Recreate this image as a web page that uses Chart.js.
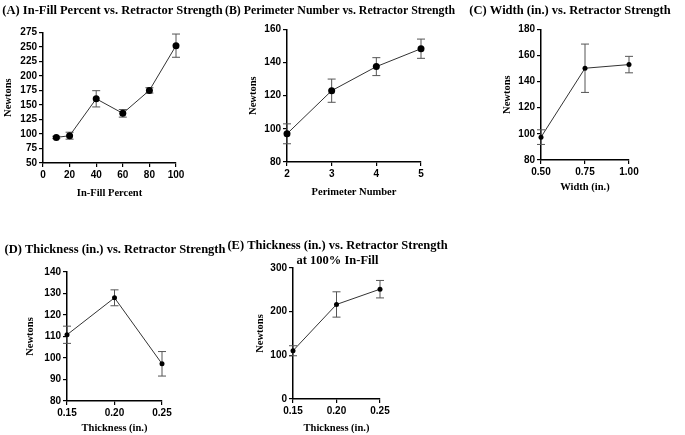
<!DOCTYPE html>
<html>
<head>
<meta charset="utf-8">
<script src="https://cdn.jsdelivr.net/npm/chart.js@4.4.0/dist/chart.umd.min.js"></script>
<style>
  body { margin: 0; background: #fff; width: 685px; height: 435px; position: relative; overflow: hidden; }
  canvas { position: absolute; }
</style>
</head>
<body>
<canvas id="chartA" width="225" height="210" style="left:0;top:0"></canvas>
<canvas id="chartB" width="230" height="210" style="left:225px;top:0"></canvas>
<canvas id="chartC" width="230" height="210" style="left:455px;top:0"></canvas>
<canvas id="chartD" width="230" height="205" style="left:0;top:230px"></canvas>
<canvas id="chartE" width="225" height="205" style="left:225px;top:230px"></canvas>
<script>
// (A) in-fill percent
const infillPct = [10, 20, 40, 60, 80, 100];
const infillNewtons = [94, 97, 160.5, 135.5, 175, 252];
const infillErr = [2, 6, 14, 6.5, 4.6, 20];
const infillXTicks = [0, 20, 40, 60, 80, 100];
const infillYTicks = [50, 75, 100, 125, 150, 175, 200, 225, 250, 275];

// (B) perimeter number
const perimNum = [2, 3, 4, 5];
const perimNewtons = [97, 123, 137.5, 148.3];
const perimErr = [6, 7, 5.4, 5.8];
const perimXTicks = [2, 3, 4, 5];
const perimYTicks = [80, 100, 120, 140, 160];

// (C) width
const widthIn = [0.5, 0.75, 1.0];
const widthNewtons = [97.5, 150.2, 153];
const widthErr = [5.6, 18.5, 6.3];
const widthXTicks = [0.5, 0.75, 1.0];
const widthYTicks = [80, 100, 120, 140, 160, 180];

// (D) thickness
const thickIn = [0.15, 0.20, 0.25];
const thickNewtons = [110.8, 128, 97.3];
const thickErr = [4, 3.7, 5.7];
const thickXTicks = [0.15, 0.20, 0.25];
const thickYTicks = [80, 90, 100, 110, 120, 130, 140];

// (E) thickness at 100% in-fill
const thick100Newtons = [110.5, 216.5, 251.5];
const thick100Err = [11.5, 29, 20];
const thick100YTicks = [0, 100, 200, 300];

const tickFont = { family: 'Liberation Sans', weight: 'bold', size: 10 };
const titleFont = { family: 'Liberation Serif', weight: 'bold', size: 12.5, lineHeight: 1.2 };
const axisFont = { family: 'Liberation Serif', weight: 'bold', size: 10.5, lineHeight: 1.2 };

// draws the vertical error bars with caps
const errorBars = {
  id: 'errorBars',
  beforeDatasetsDraw(chart, args, opts) {
    const ctx = chart.ctx;
    const ys = chart.scales.y;
    chart.data.datasets.forEach((ds, i) => {
      const meta = chart.getDatasetMeta(i);
      ctx.save();
      ctx.strokeStyle = '#555';
      ctx.lineWidth = 1;
      meta.data.forEach((pt, j) => {
        const v = ds.data[j].y;
        const e = ds.errors[j];
        const top = ys.getPixelForValue(v + e);
        const bot = ys.getPixelForValue(v - e);
        const w = opts.cap || 4;
        ctx.beginPath();
        ctx.moveTo(pt.x, top); ctx.lineTo(pt.x, bot);
        ctx.moveTo(pt.x - w, top); ctx.lineTo(pt.x + w, top);
        ctx.moveTo(pt.x - w, bot); ctx.lineTo(pt.x + w, bot);
        ctx.stroke();
      });
      ctx.restore();
    });
  }
};

function makePanel(id, p) {
  const pts = p.xs.map((x, i) => ({ x: x, y: p.ys[i] }));
  const axis = (ticks, dec, min, max, title, titlePad, extra) => Object.assign({
    type: 'linear',
    min: min,
    max: max,
    afterBuildTicks: s => { s.ticks = ticks.map(v => ({ value: v })); },
    ticks: {
      callback: v => v.toFixed(dec),
      font: tickFont,
      color: '#000',
      padding: 2,
      maxRotation: 0,
      autoSkip: false
    },
    grid: { display: true, drawOnChartArea: false, drawTicks: true, tickLength: 4, color: '#000', lineWidth: 1.2 },
    border: { display: true, color: '#000', width: 1.5 },
    title: { display: true, text: title, font: axisFont, color: '#000', padding: titlePad }
  }, extra);

  new Chart(document.getElementById(id), {
    type: 'line',
    data: {
      datasets: [{
        data: pts,
        errors: p.err,
        borderColor: '#333',
        borderWidth: 1,
        pointRadius: p.r,
        pointBackgroundColor: '#000',
        pointBorderColor: '#000',
        pointBorderWidth: 0,
        clip: false,
        tension: 0
      }]
    },
    options: {
      responsive: false,
      animation: false,
      layout: { padding: { left: 0, right: 0, top: 0, bottom: p.pb } },
      scales: {
        x: axis(p.xTicks, p.xDec, p.xMin, p.xMax, p.xTitle, 0, { afterFit: s => { s.height = p.xh; } }),
        y: axis(p.yTicks, 0, p.yMin, p.yMax, 'Newtons', { top: p.yt, bottom: 0 }, { afterFit: s => { s.width = p.yw; } }),
        // empty right axis only keeps the gap on the right side
        yR: {
          type: 'linear', position: 'right', display: true,
          ticks: { display: false }, grid: { display: false }, border: { display: false },
          afterFit: s => { s.width = p.pr; }
        }
      },
      plugins: {
        legend: { display: false },
        tooltip: { enabled: false },
        title: {
          display: true,
          text: p.title,
          font: titleFont,
          color: '#000',
          padding: { top: p.tt, bottom: p.tb }
        },
        errorBars: { cap: p.cap }
      }
    },
    plugins: [errorBars]
  });
}

makePanel('chartA', {
  xs: infillPct, ys: infillNewtons, err: infillErr,
  xTicks: infillXTicks, yTicks: infillYTicks, xDec: 0,
  xMin: 0, xMax: 100, yMin: 50, yMax: 275,
  title: '(A) In-Fill Percent vs. Retractor Strength', xTitle: 'In-Fill Percent',
  yt: 1.7, yw: 43, pr: 49, pb: 10.4, xh: 36.6, tt: 2.8, tb: 14.5, r: 3.5, cap: 4
});

makePanel('chartB', {
  xs: perimNum, ys: perimNewtons, err: perimErr,
  xTicks: perimXTicks, yTicks: perimYTicks, xDec: 0,
  xMin: 2, xMax: 5, yMin: 80, yMax: 160,
  title: '(B) Perimeter Number vs. Retractor Strength', xTitle: 'Perimeter Number',
  yt: 21.7, yw: 62, pr: 34, pb: 11.4, xh: 36.6, tt: 2.8, tb: 11.5, r: 3.5, cap: 4
});

makePanel('chartC', {
  xs: widthIn, ys: widthNewtons, err: widthErr,
  xTicks: widthXTicks, yTicks: widthYTicks, xDec: 2,
  xMin: 0.5, xMax: 1.0, yMin: 80, yMax: 180,
  title: '(C) Width (in.) vs. Retractor Strength', xTitle: 'Width (in.)',
  yt: 45.7, yw: 86, pr: 56, pb: 16.4, xh: 33.6, tt: 2.8, tb: 11.5, r: 2.5, cap: 4
});

makePanel('chartD', {
  xs: thickIn, ys: thickNewtons, err: thickErr,
  xTicks: thickXTicks, yTicks: thickYTicks, xDec: 2,
  xMin: 0.15, xMax: 0.25, yMin: 80, yMax: 140,
  title: '(D) Thickness (in.) vs. Retractor Strength', xTitle: 'Thickness (in.)',
  yt: 23.7, yw: 67, pr: 68, pb: 0.4, xh: 33.6, tt: 12, tb: 15, r: 2.5, cap: 4
});

makePanel('chartE', {
  xs: thickIn, ys: thick100Newtons, err: thick100Err,
  xTicks: thickXTicks, yTicks: thick100YTicks, xDec: 2,
  xMin: 0.15, xMax: 0.25, yMin: 0, yMax: 300,
  title: ['(E) Thickness (in.) vs. Retractor Strength', 'at 100% In-Fill'], xTitle: 'Thickness (in.)',
  yt: 28.7, yw: 68, pr: 70, pb: 0.4, xh: 35.6, tt: 8, tb: 0, r: 2.5, cap: 4
});
</script>
</body>
</html>
